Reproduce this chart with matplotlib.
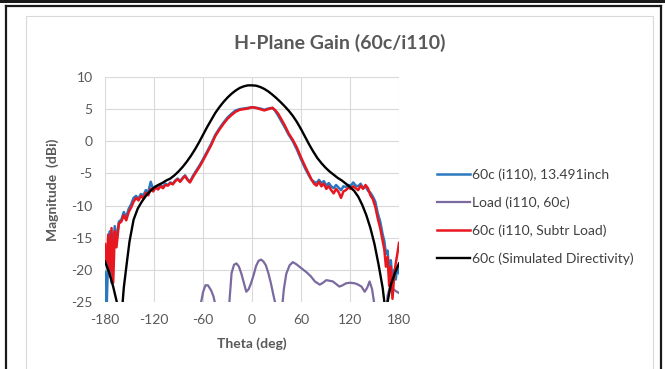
import matplotlib
matplotlib.use("Agg")
import matplotlib.pyplot as plt
from matplotlib.lines import Line2D
from matplotlib.patches import Rectangle

plt.rcParams['font.family'] = ['Lato', 'DejaVu Sans']
plt.rcParams['axes.unicode_minus'] = False

# ---------------- data ----------------
theta_meas = [-180, -178, -176, -174, -172, -170, -168, -166, -163, -160, -157, -154, -151,
              -148, -145, -142, -139, -136, -133, -130, -127, -124, -121, -118, -115, -112,
              -109, -106, -103, -100, -97, -94, -91, -88, -85, -82, -79, -76, -72, -68, -64,
              -60, -55, -50, -45, -40, -35, -30, -25, -20, -15, -10, -5, 0, 5, 10, 15, 20,
              25, 28, 32, 36, 40, 45, 50, 55, 60, 65, 70, 73, 76, 79, 82, 85, 88, 91, 94,
              97, 100, 103, 106, 109, 112, 115, 118, 121, 124, 127, 130, 133, 136, 139, 142,
              145, 148, 151, 154, 157, 160, 162, 164, 166, 168, 170, 172, 174, 176, 178, 180]

gain_subtr = [-16.0, -19.0, -14.5, -21.0, -13.5, -22.0, -14.0, -16.5, -12.8, -12.5, -11.5, -12.3, -11.0,
              -10.3, -9.4, -8.8, -9.2, -8.5, -8.9, -8.0, -8.4, -7.4, -7.8, -7.2, -7.5, -7.0,
              -7.3, -6.8, -6.9, -6.5, -6.7, -6.2, -5.9, -6.3, -5.8, -5.4, -6.0, -6.4, -5.5, -4.7, -3.9,
              -3.0, -1.8, -0.6, 0.8, 1.8, 2.7, 3.5, 4.1, 4.6, 4.9, 5.0, 5.1, 5.3, 5.2, 5.0, 4.8, 5.0,
              5.2, 4.9, 4.3, 3.4, 2.5, 1.2, 0.2, -1.0, -2.5, -3.9, -5.2, -6.0, -6.6, -6.9, -6.3, -7.0, -6.6, -7.4, -7.0,
              -7.6, -8.1, -7.4, -7.9, -8.8, -7.8, -7.6, -7.2, -7.4, -7.0, -7.3, -7.6, -6.9, -7.4, -6.8, -7.3,
              -8.4, -9.0, -10.2, -12.0, -13.5, -15.5, -16.8, -19.5, -18.0, -22.5, -19.5, -24.5, -21.0, -19.0, -17.5, -15.8]

gain_meas = [-20.3, -26.0, -17.0, -14.0, -22.0, -16.0, -13.2, -15.5, -12.5, -12.2, -11.0, -11.8, -10.5,
             -9.8, -8.8, -8.5, -8.9, -8.2, -8.4, -7.6, -7.9, -6.3, -7.5, -7.0, -7.3, -6.8,
             -7.1, -6.6, -6.8, -6.4, -6.6, -6.1, -5.8, -6.2, -5.7, -5.3, -5.9, -6.3, -5.3, -4.5, -3.7,
             -2.8, -1.6, -0.4, 1.0, 2.0, 2.9, 3.7, 4.3, 4.8, 5.0, 5.1, 5.2, 5.3, 5.2, 5.1, 4.9, 5.1,
             5.2, 4.8, 4.0, 3.1, 2.2, 1.0, 0.0, -1.3, -2.8, -4.2, -5.4, -6.0, -6.3, -6.5, -6.0, -6.5, -6.2, -6.9, -6.5,
             -7.0, -7.3, -6.8, -7.2, -7.6, -7.0, -7.1, -6.8, -6.9, -6.4, -6.9, -7.0, -6.6, -7.3, -7.0, -7.7,
             -8.0, -8.6, -9.4, -11.2, -12.5, -14.5, -15.5, -17.5, -17.0, -20.5, -18.5, -22.0, -20.0, -21.5, -19.5, -20.5]

theta_load = [-180, -170, -160, -100, -66, -63, -60, -57, -54, -50, -47, -44, -40, -32, -28, -25,
              -22, -19, -16, -13, -10, -7, -4, -1, 2, 5, 8, 11, 14, 17, 20, 23, 26, 29, 32, 36,
              39, 42, 46, 50, 54, 58, 62, 67, 72, 77, 83, 87, 91, 95, 99, 103, 107, 111, 115,
              120, 126, 130, 134, 138, 141, 144, 147, 150, 155, 163, 166, 169, 172, 176, 180]
gain_load = [-30, -30, -30, -30, -30, -25.5, -23.5, -22.4, -22.4, -23.2, -24.2, -26.0, -30, -30, -25.5, -20.5,
             -19.2, -19.0, -19.5, -20.6, -22.0, -23.4, -23.0, -22.0, -20.8, -19.4, -18.6, -18.4, -18.7, -19.3, -20.5, -22.0, -23.8, -25.5, -30, -27.0,
             -23.0, -20.6, -19.3, -18.8, -19.1, -19.5, -19.9, -20.4, -21.0, -21.8, -22.3, -22.0, -21.6, -21.7, -21.8, -22.2, -22.6, -22.4, -22.1,
             -22.0, -22.1, -22.3, -22.6, -23.4, -22.8, -21.8, -23.0, -25.5, -30, -30, -24.0, -22.6, -22.9, -23.3, -23.6]

theta_sim = [-180, -175, -170, -165, -162, -159, -157, -153, -150, -145, -140, -135, -130, -125,
             -120, -115, -110, -105, -100, -95, -90, -85, -80, -75, -70, -65, -60, -55, -50, -45,
             -40, -35, -30, -25, -20, -15, -10, -5, 0, 5, 10, 15, 20, 25, 30, 35, 40, 45, 50, 55,
             60, 65, 70, 75, 80, 85, 90, 95, 100, 105, 110, 115, 120, 125, 130, 135, 140, 145,
             150, 155, 160, 163, 166, 170, 175, 180]
gain_sim = [-18.7, -20.4, -22.6, -25.3, -27.5, -26.0, -22.8, -18.6, -15.6, -12.2, -10.5, -9.4, -8.5, -7.8,
            -7.2, -6.8, -6.5, -6.1, -5.8, -5.3, -4.7, -4.0, -3.2, -2.3, -1.3, -0.2, 1.0, 2.2, 3.3, 4.4,
            5.3, 6.1, 6.8, 7.4, 7.9, 8.3, 8.55, 8.7, 8.7, 8.65, 8.45, 8.15, 7.75, 7.25, 6.7, 6.1, 5.45, 4.75, 3.95, 3.0,
            1.9, 0.7, -0.5, -1.6, -2.6, -3.4, -4.1, -4.7, -5.2, -5.7, -6.1, -6.6, -7.1, -7.7, -8.6, -9.9, -11.5, -13.5,
            -16.0, -19.2, -22.8, -26.0, -25.0, -22.3, -20.5, -19.0]

labels = ["60c (i110), 13.491inch", "Load (i110, 60c)", "60c (i110, Subtr Load)",
          "60c (Simulated Directivity)"]
x_ticks = [-180, -120, -60, 0, 60, 120, 180]
y_ticks = [10, 5, 0, -5, -10, -15, -20, -25]

# ---------------- figure ----------------
W, H = 665, 369
fig = plt.figure(figsize=(W / 100, H / 100), dpi=100)
fig.patch.set_facecolor('white')

def px(x0, y0):
    return x0 / W, 1 - y0 / H

# outer page frame
fig.add_artist(Rectangle((0, 1 - 2.5 / H), 1, 2.5 / H, transform=fig.transFigure,
                         facecolor='#1a1a1a', edgecolor='none'))
fig.add_artist(Line2D([6 / W, 6 / W], [0, 1 - 6 / H], transform=fig.transFigure,
                      color='#1a1a1a', lw=1.6))
fig.add_artist(Line2D([6 / W, 661 / W], [1 - 6 / H, 1 - 6 / H], transform=fig.transFigure,
                      color='#1a1a1a', lw=1.6))
fig.add_artist(Line2D([661 / W, 661 / W], [0, 1 - 6 / H], transform=fig.transFigure,
                      color='#1a1a1a', lw=1.6))
# chart area border
fig.add_artist(Rectangle((26 / W, -0.05), (653 - 26) / W, 1 - 16 / H + 0.05,
                         transform=fig.transFigure, facecolor='none',
                         edgecolor='#d9d9d9', lw=0.8))

ax = fig.add_axes([105 / W, 1 - 302 / H, (399 - 105) / W, (302 - 77) / H])
ax.set_facecolor('white')

c_blue = '#2a78bf'
c_purple = '#7b6aa0'
c_red = '#e8161e'
c_black = '#000000'

h1, = ax.plot(theta_meas, gain_meas, color=c_blue, lw=1.8, zorder=3)
h2, = ax.plot(theta_load, gain_load, color=c_purple, lw=1.6, zorder=3)
h3, = ax.plot(theta_meas, gain_subtr, color=c_red, lw=1.8, zorder=4)
h4, = ax.plot(theta_sim, gain_sim, color=c_black, lw=1.7, zorder=5)

ax.set_xlim(-180, 180)
ax.set_ylim(-25, 10)
ax.set_xticks(x_ticks)
ax.set_yticks(y_ticks)
ax.grid(True, color='#d9d9d9', lw=0.8)
ax.set_axisbelow(True)
for s in ax.spines.values():
    s.set_visible(False)
ax.tick_params(length=0, labelsize=10, colors='#595959', pad=9)

ax.set_xlabel("Theta (deg)", fontsize=10, fontweight='bold', color='#595959', labelpad=8)
ax.set_ylabel("Magnitude  (dBi)", fontsize=10, fontweight='bold', color='#595959', labelpad=9)

fig.text(339.5 / W, 1 - 43 / H, "H-Plane Gain (60c/i110)", fontsize=14, fontweight='bold',
         color='#595959', ha='center', va='center')

fig.legend([h1, h2, h3, h4], labels, loc='upper left', bbox_to_anchor=px(437, 168),
           frameon=False, fontsize=10, handlelength=2.4, handletextpad=0.15,
           labelspacing=1.13, borderpad=0, borderaxespad=0, labelcolor='#404040')

fig.savefig("out.png", dpi=100, facecolor='white')
